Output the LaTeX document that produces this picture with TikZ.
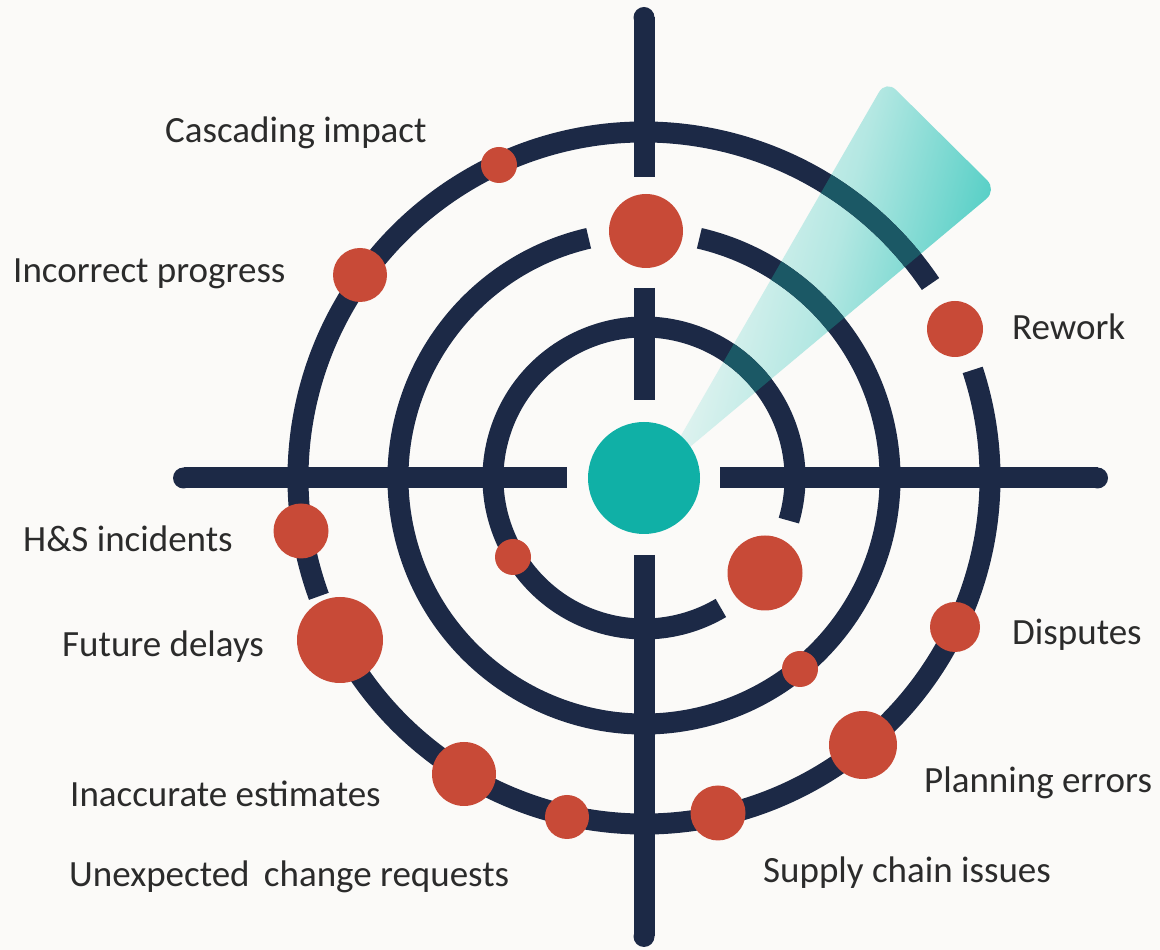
\documentclass[tikz,border=0pt]{standalone}
\usepackage{fontspec}
\setmainfont{Carlito}
\definecolor{bgc}{HTML}{FBFAF8}
\definecolor{navy}{HTML}{1C2946}
\definecolor{riskred}{HTML}{C84A37}
\definecolor{tealc}{HTML}{10B0A6}
\definecolor{beamc}{HTML}{3FC9BF}
\definecolor{txt}{HTML}{2B2B2B}
\definecolor{tintc}{HTML}{1B5865}
\begin{document}
\begin{tikzpicture}[x=1pt,y=1pt,
  ring/.style={draw=#1,line width=21pt,line cap=butt},
  ring/.default=navy,
  dot/.style={circle,fill=riskred,inner sep=0pt,minimum size=#1},
  lbl/.style={anchor=base west,inner sep=0pt,text=txt,font=\fontsize{37}{44}\selectfont}]
\fill[bgc] (0,0) rectangle (1160,950);
\useasboundingbox (0,0) rectangle (1160,950);
\coordinate (O) at (644,472);
% beam
\shade[rounded corners=14pt,top color=beamc,bottom color=bgc,middle color=beamc!38!bgc,shading angle=-105]
  (660,478) -- (886,870) -- (997,760) -- cycle;
% rings
\draw[ring] (O) ++(34.1:346) arc[start angle=34.1,end angle=200,radius=346];
\draw[ring] (O) ++(210:346) arc[start angle=210,end angle=378.2,radius=346];
\draw[ring] (O) ++(103:246) arc[start angle=103,end angle=437,radius=246];
\draw[ring] (O) ++(-16.4:151) arc[start angle=-16.4,end angle=300.6,radius=151];
% cross lines
\draw[ring] (183.5,472) -- (567,472);
\draw[ring] (720,472) -- (1097.5,472);
\draw[ring] (644,932.5) -- (644,773);
\draw[ring] (644,662) -- (644,550);
\draw[ring] (644,395) -- (644,13.5);
\fill[navy] (183.5,472) circle[radius=10.5];
\fill[navy] (1097.5,472) circle[radius=10.5];
\fill[navy] (644,932.5) circle[radius=10.5];
\fill[navy] (644,13.5) circle[radius=10.5];
% tinted rings under the beam
\begin{scope}
\clip[rounded corners=14pt] (660,478) -- (886,870) -- (997,760) -- cycle;
\draw[ring=tintc] (O) ++(34.1:346) arc[start angle=34.1,end angle=200,radius=346];
\draw[ring=tintc] (O) ++(210:346) arc[start angle=210,end angle=378.2,radius=346];
\draw[ring=tintc] (O) ++(103:246) arc[start angle=103,end angle=437,radius=246];
\draw[ring=tintc] (O) ++(-16.4:151) arc[start angle=-16.4,end angle=300.6,radius=151];
\end{scope}
% centre
\node[circle,fill=tealc,inner sep=0pt,minimum size=112pt] (bull) at (O) {};
% risk dots
\node[dot=36pt] (dCascade) at (499,785) {};
\node[dot=74pt] (dTop) at (646,719) {};
\node[dot=54pt] (dIncorrect) at (360,675) {};
\node[dot=56pt] (dRework) at (955,621) {};
\node[dot=55pt] (dHS) at (301,419) {};
\node[dot=86pt] (dFuture) at (340,310) {};
\node[dot=36pt] (dInnerL) at (513,393) {};
\node[dot=75pt] (dInnerR) at (765,377) {};
\node[dot=36pt] (dMidR) at (800,281) {};
\node[dot=50pt] (dDisputes) at (955,323) {};
\node[dot=68pt] (dPlanning) at (863,205) {};
\node[dot=64pt] (dInaccurate) at (464,176) {};
\node[dot=44pt] (dUnexpected) at (567,133) {};
\node[dot=55pt] (dSupply) at (718,137) {};
% labels
\node[lbl] (tCascade) at (165,807) {Cascading impact};
\node[lbl] (tIncorrect) at (13,667) {Incorrect progress};
\node[lbl] (tRework) at (1012,610) {Rework};
\node[lbl] (tHS) at (23,398) {H\&S incidents};
\node[lbl] (tFuture) at (62,293) {Future delays};
\node[lbl] (tDisputes) at (1012,305) {Disputes};
\node[lbl] (tPlanning) at (924,157) {Planning errors};
\node[lbl] (tInaccurate) at (70,143) {Inaccurate estimates};
\node[lbl] (tUnexpected) at (69,63) {Unexpected\hspace{6pt} change requests};
\node[lbl] (tSupply) at (763,67) {Supply chain issues};
\end{tikzpicture}
\end{document}
